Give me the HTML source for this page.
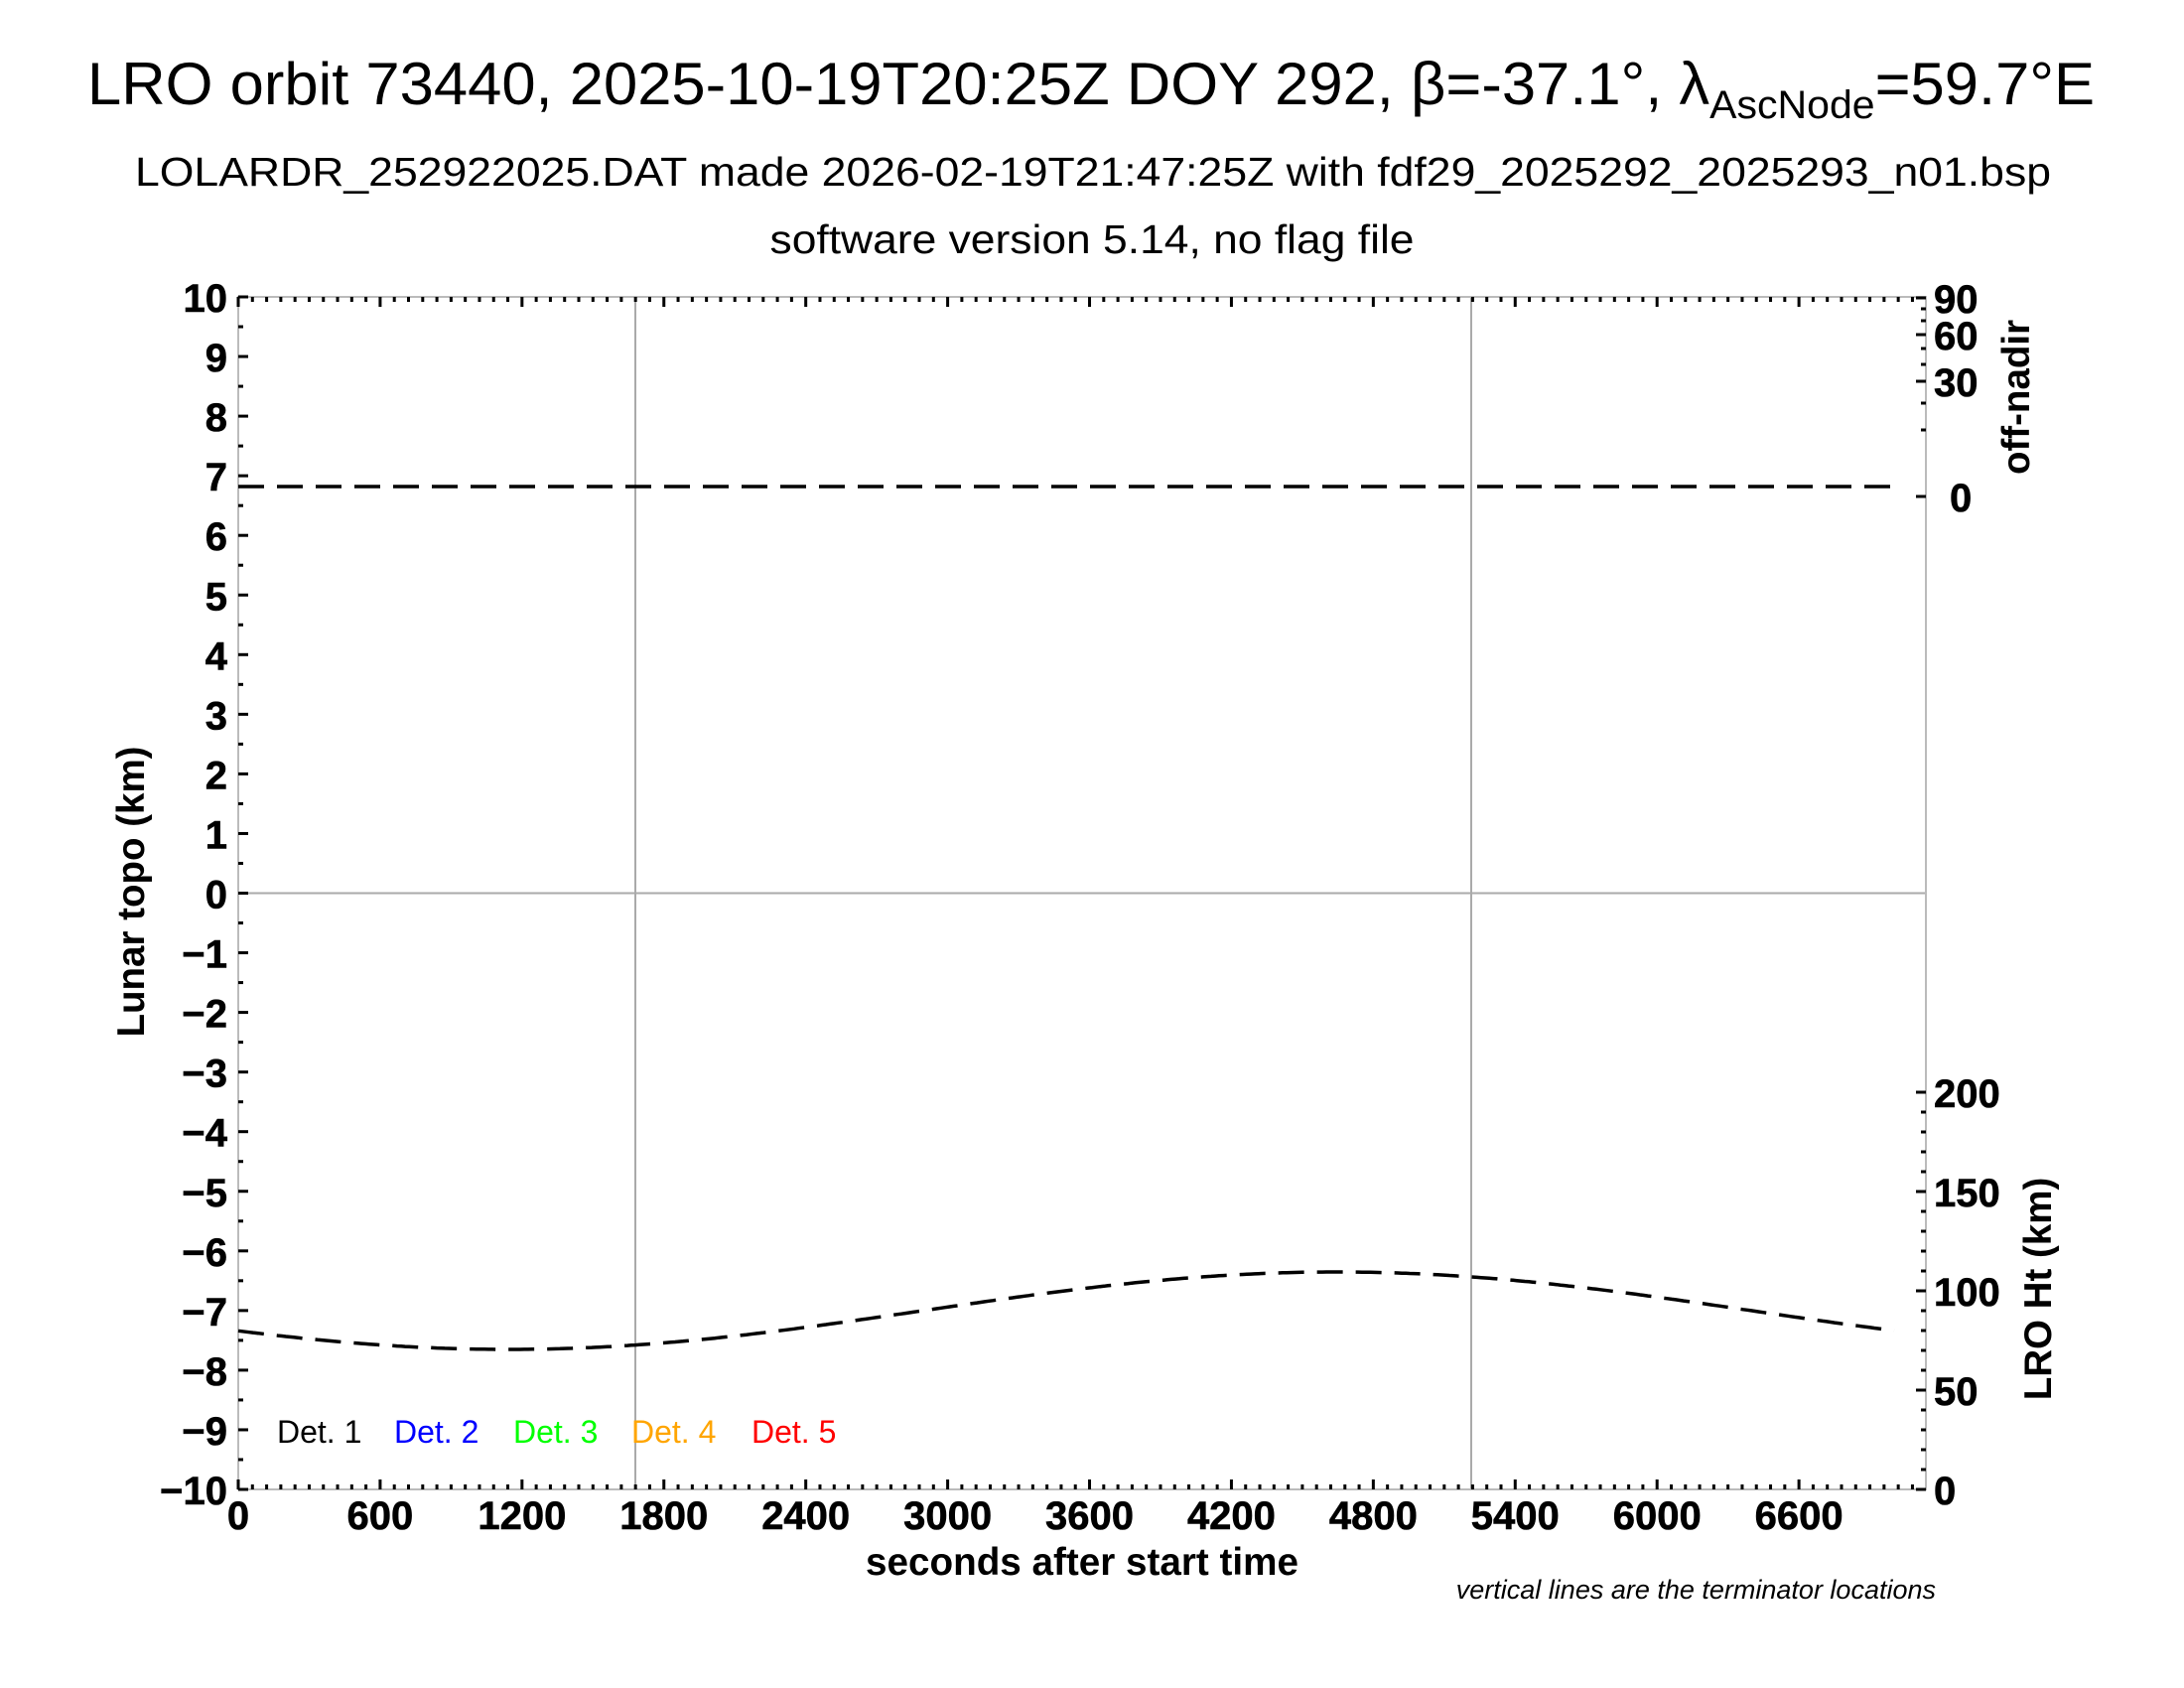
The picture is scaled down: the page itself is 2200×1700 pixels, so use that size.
<!DOCTYPE html>
<html><head><meta charset="utf-8"><style>
html,body{margin:0;padding:0;background:#fff;}
svg{display:block;font-family:"Liberation Sans",Arial,sans-serif;}
</style></head><body>
<svg width="2200" height="1700" viewBox="0 0 2200 1700" xmlns="http://www.w3.org/2000/svg">
<rect width="2200" height="1700" fill="#fff"/>
<text x="1099" y="105" font-size="60" text-anchor="middle" textLength="2022" lengthAdjust="spacingAndGlyphs">LRO orbit 73440, 2025-10-19T20:25Z DOY 292, β=-37.1°, λ<tspan font-size="40" dy="14">AscNode</tspan><tspan dy="-14">=59.7°E</tspan></text>
<text x="1101" y="187" font-size="41" text-anchor="middle" textLength="1930" lengthAdjust="spacingAndGlyphs">LOLARDR_252922025.DAT made 2026-02-19T21:47:25Z with fdf29_2025292_2025293_n01.bsp</text>
<text x="1100" y="255" font-size="41" text-anchor="middle" textLength="649" lengthAdjust="spacingAndGlyphs">software version 5.14, no flag file</text>

<line x1="640" y1="299" x2="640" y2="1500" stroke="#aaa" stroke-width="2"/>
<line x1="1482" y1="299" x2="1482" y2="1500" stroke="#aaa" stroke-width="2"/>
<line x1="240" y1="899.5" x2="1940" y2="899.5" stroke="#aaa" stroke-width="2"/>
<rect x="240" y="299" width="1700" height="1201" fill="none" stroke="#bbb" stroke-width="2"/>
<g id="ticks" stroke="#000" stroke-width="3"></g>
<g id="labels" font-size="40" font-weight="bold" stroke="#000" stroke-width="0.6"></g>

<line x1="240" y1="490" x2="1909" y2="490" stroke="#000" stroke-width="3.5" stroke-dasharray="26,13"/>
<path id="ht" fill="none" stroke="#000" stroke-width="3.5" stroke-dasharray="26,13"/>

<g font-size="32">
<text x="279" y="1453" fill="#000">Det. 1</text>
<text x="397" y="1453" fill="#0000ff">Det. 2</text>
<text x="517" y="1453" fill="#00ff00">Det. 3</text>
<text x="636" y="1453" fill="#ffa500">Det. 4</text>
<text x="757" y="1453" fill="#ff0000">Det. 5</text>
</g>

<text x="1090" y="1586" font-size="38.5" font-weight="bold" text-anchor="middle" textLength="436" lengthAdjust="spacingAndGlyphs">seconds after start time</text>
<text transform="translate(145,898) rotate(-90)" font-size="38.5" font-weight="bold" text-anchor="middle">Lunar topo (km)</text>
<text transform="translate(2044,400) rotate(-90)" font-size="38.5" font-weight="bold" text-anchor="middle">off-nadir</text>
<text transform="translate(2066,1298) rotate(-90)" font-size="38.5" font-weight="bold" text-anchor="middle">LRO Ht (km)</text>
<text x="1950" y="1610" font-size="27" font-style="italic" text-anchor="end">vertical lines are the terminator locations</text>
</svg>
<script>
var ns="http://www.w3.org/2000/svg";
var T=document.getElementById('ticks'),L=document.getElementById('labels');
function ln(x1,y1,x2,y2){var l=document.createElementNS(ns,'line');l.setAttribute('x1',x1);l.setAttribute('y1',y1);l.setAttribute('x2',x2);l.setAttribute('y2',y2);T.appendChild(l);}
function tx(x,y,s,a){var t=document.createElementNS(ns,'text');t.setAttribute('x',x);t.setAttribute('y',y);t.setAttribute('text-anchor',a);t.textContent=s;L.appendChild(t);}
var sx=0.2382;
for(var s=0;s<=7137;s+=60){var x=240+s*sx;var m=(s%600==0);ln(x,1500,x,1500-(m?10:5));ln(x,299,x,299+(m?10:5));if(m)tx(x,1540,String(s),'middle');}
for(var v=-10;v<=10;v+=0.5){var y=899.5-v*60.05;var m=(v%1==0);ln(240,y,240+(m?10:5),y);if(m)tx(229,y+15,(v<0?'\u2212':'')+Math.abs(v),'end');}
for(var h=0;h<=200;h+=10){var y=1500-h*2;ln(1940,y,1940-(h%50==0?10:5),y);if(h%50==0)tx(1948,y+15,String(h),'start');}
[[300,1],[311,0],[323,0],[337,1],[351,0],[367,0],[384,1],[406,0],[433,0],[500,1]].forEach(function(a){ln(1940,a[0],1940-(a[1]?10:5),a[0]);});
tx(1948,315,'90','start');tx(1948,352,'60','start');tx(1948,399,'30','start');tx(1964,515,'0','start');
var d='';for(var x=240;x<=1909;x+=4){var y=1320+39*Math.cos(2*Math.PI*(x-512)/1670);d+=(x==240?'M':'L')+x+','+y.toFixed(1);}
document.getElementById('ht').setAttribute('d',d);
</script>
</body></html>
